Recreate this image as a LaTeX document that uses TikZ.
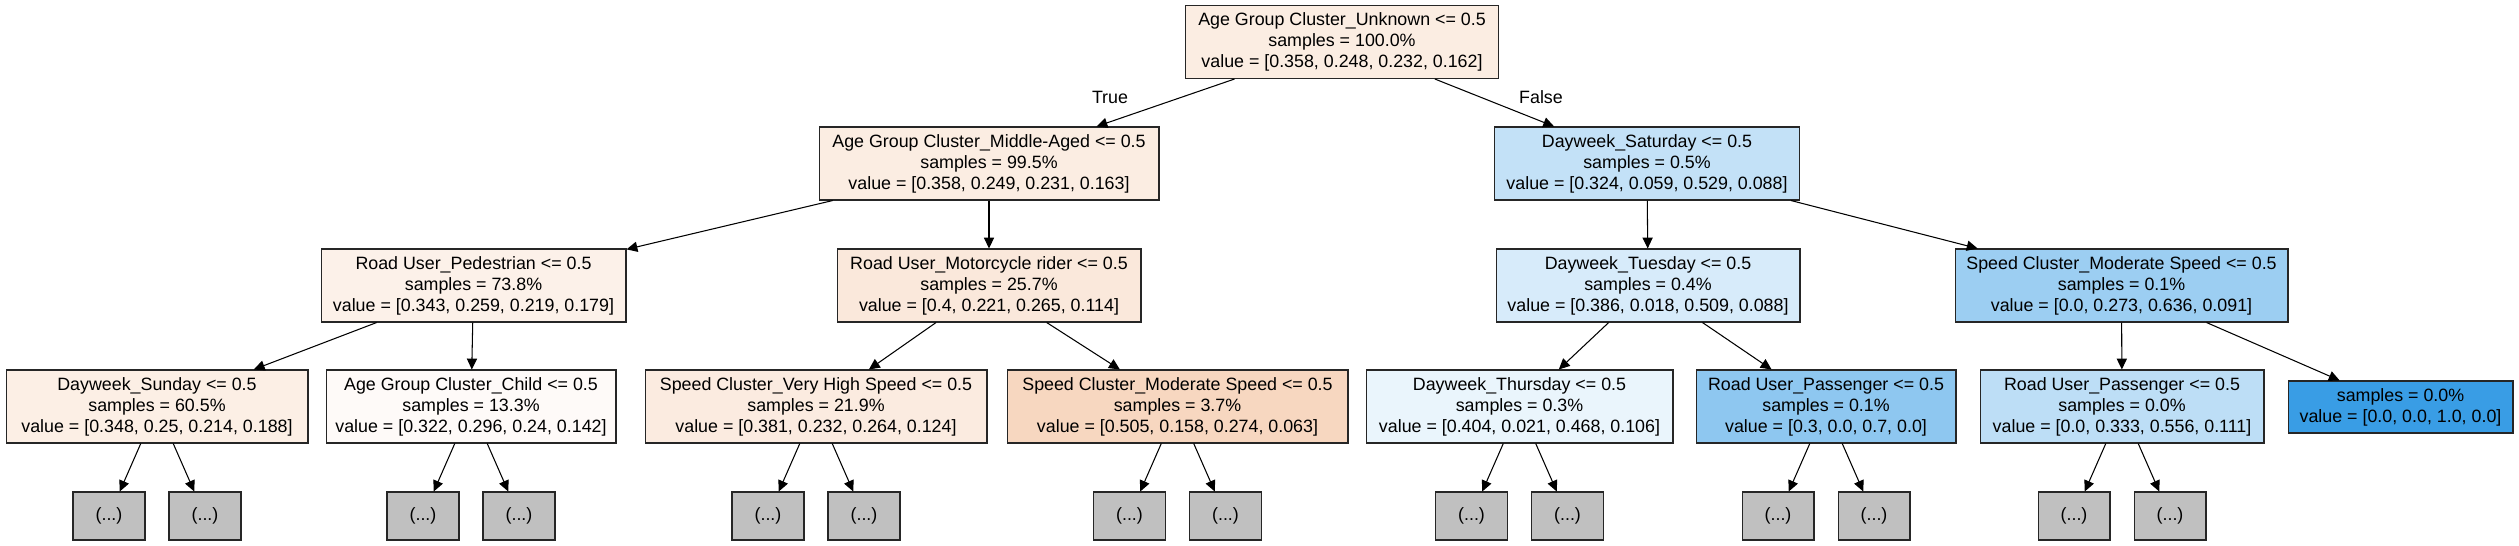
\documentclass[tikz,border=0pt]{standalone}
\usepackage{fontspec}
\setmainfont{Liberation Sans}
\usetikzlibrary{arrows.meta}

\definecolor{peachA}{RGB}{251,237,226}
\definecolor{peachB}{RGB}{252,241,233}
\definecolor{peachC}{RGB}{250,232,219}
\definecolor{peachD}{RGB}{252,239,229}
\definecolor{peachE}{RGB}{254,250,248}
\definecolor{peachF}{RGB}{251,235,224}
\definecolor{peachG}{RGB}{247,215,192}
\definecolor{blueA}{RGB}{195,225,247}
\definecolor{blueB}{RGB}{215,235,250}
\definecolor{blueC}{RGB}{156,206,242}
\definecolor{blueD}{RGB}{234,245,252}
\definecolor{blueE}{RGB}{142,199,240}
\definecolor{blueF}{RGB}{189,222,246}
\definecolor{blueG}{RGB}{57,157,229}
\definecolor{leafgray}{RGB}{192,192,192}

\tikzset{
	splitbox/.style={draw=black!85, line width=0.6pt, inner sep=0pt,
		minimum height=1.46cm, align=center,
		font=\fontsize{10.15}{11.9}\selectfont},
	leafbox/.style={draw=black!85, line width=0.6pt, fill=leafgray,
		inner sep=0pt, minimum width=1.44cm, minimum height=0.96cm,
		font=\fontsize{10.15}{11.9}\selectfont},
	branch/.style={-{Triangle[length=6.2pt,width=5.8pt]}, line width=0.6pt},
	answer/.style={font=\fontsize{10.15}{11.9}\selectfont}
}

\begin{document}
\begin{tikzpicture}[x=0.02cm, y=-0.02cm]
	\useasboundingbox
		(0,0) rectangle (2519,545);

	\node [splitbox, fill=peachA, minimum width=6.26cm] (root) at (1342, 42)
		{Age Group Cluster\_Unknown <= 0.5\\samples = 100.0\%\\value = [0.358, 0.248, 0.232, 0.162]};

	\node [splitbox, fill=peachA, minimum width=6.80cm] (middle) at (989, 163.5)
		{Age Group Cluster\_Middle-Aged <= 0.5\\samples = 99.5\%\\value = [0.358, 0.249, 0.231, 0.163]};

	\node [splitbox, fill=blueA, minimum width=6.10cm] (saturday) at (1647, 163.5)
		{Dayweek\_Saturday <= 0.5\\samples = 0.5\%\\value = [0.324, 0.059, 0.529, 0.088]};

	\node [splitbox, fill=peachB, minimum width=6.10cm] (pedestrian) at (473.5, 285.5)
		{Road User\_Pedestrian <= 0.5\\samples = 73.8\%\\value = [0.343, 0.259, 0.219, 0.179]};

	\node [splitbox, fill=peachC, minimum width=6.08cm] (motorcycle) at (989, 285.5)
		{Road User\_Motorcycle rider <= 0.5\\samples = 25.7\%\\value = [0.4, 0.221, 0.265, 0.114]};

	\node [splitbox, fill=blueB, minimum width=6.08cm] (tuesday) at (1648, 285.5)
		{Dayweek\_Tuesday <= 0.5\\samples = 0.4\%\\value = [0.386, 0.018, 0.509, 0.088]};

	\node [splitbox, fill=blueC, minimum width=6.66cm] (moderateR) at (2121.5, 285.5)
		{Speed Cluster\_Moderate Speed <= 0.5\\samples = 0.1\%\\value = [0.0, 0.273, 0.636, 0.091]};

	\node [splitbox, fill=peachD, minimum width=6.04cm] (sunday) at (157, 406.5)
		{Dayweek\_Sunday <= 0.5\\samples = 60.5\%\\value = [0.348, 0.25, 0.214, 0.188]};

	\node [splitbox, fill=peachE, minimum width=5.80cm] (child) at (471, 406.5)
		{Age Group Cluster\_Child <= 0.5\\samples = 13.3\%\\value = [0.322, 0.296, 0.24, 0.142]};

	\node [splitbox, fill=peachF, minimum width=6.84cm] (veryhigh) at (816, 406.5)
		{Speed Cluster\_Very High Speed <= 0.5\\samples = 21.9\%\\value = [0.381, 0.232, 0.264, 0.124]};

	\node [splitbox, fill=peachG, minimum width=6.82cm] (moderateL) at (1177.5, 406.5)
		{Speed Cluster\_Moderate Speed <= 0.5\\samples = 3.7\%\\value = [0.505, 0.158, 0.274, 0.063]};

	\node [splitbox, fill=blueD, minimum width=6.14cm] (thursday) at (1519.5, 406.5)
		{Dayweek\_Thursday <= 0.5\\samples = 0.3\%\\value = [0.404, 0.021, 0.468, 0.106]};

	\node [splitbox, fill=blueE, minimum width=5.20cm] (passengerA) at (1826, 406.5)
		{Road User\_Passenger <= 0.5\\samples = 0.1\%\\value = [0.3, 0.0, 0.7, 0.0]};

	\node [splitbox, fill=blueF, minimum width=5.68cm] (passengerB) at (2122, 406.5)
		{Road User\_Passenger <= 0.5\\samples = 0.0\%\\value = [0.0, 0.333, 0.556, 0.111]};

	\node [splitbox, fill=blueG, minimum width=4.50cm, minimum height=1.04cm] (pure) at (2400.5, 407)
		{samples = 0.0\%\\value = [0.0, 0.0, 1.0, 0.0]};

	\node [answer] (truelabel) at (1110, 97) {True};
	\node [answer] (falselabel) at (1541, 97) {False};

	\draw [branch] (root) -- (middle);
	\draw [branch] (root) -- (saturday);
	\draw [branch] (middle) -- (pedestrian);
	\draw [branch] (middle) -- (motorcycle);
	\draw [branch] (saturday) -- (tuesday);
	\draw [branch] (saturday) -- (moderateR);
	\draw [branch] (pedestrian) -- (sunday);
	\draw [branch] (pedestrian) -- (child);
	\draw [branch] (motorcycle) -- (veryhigh);
	\draw [branch] (motorcycle) -- (moderateL);
	\draw [branch] (tuesday) -- (thursday);
	\draw [branch] (tuesday) -- (passengerA);
	\draw [branch] (moderateR) -- (passengerB);
	\draw [branch] (moderateR) -- (pure);

	\foreach \p/\cx in {sunday/157, child/471, veryhigh/816, moderateL/1177.5,
			thursday/1519.5, passengerA/1826, passengerB/2122}
	{
		\node [leafbox] (\p-l) at (\cx-48, 516) {(...)};
		\node [leafbox] (\p-r) at (\cx+48, 516) {(...)};
		\draw [branch] (\p) -- (\p-l);
		\draw [branch] (\p) -- (\p-r);
	}
\end{tikzpicture}
\end{document}
